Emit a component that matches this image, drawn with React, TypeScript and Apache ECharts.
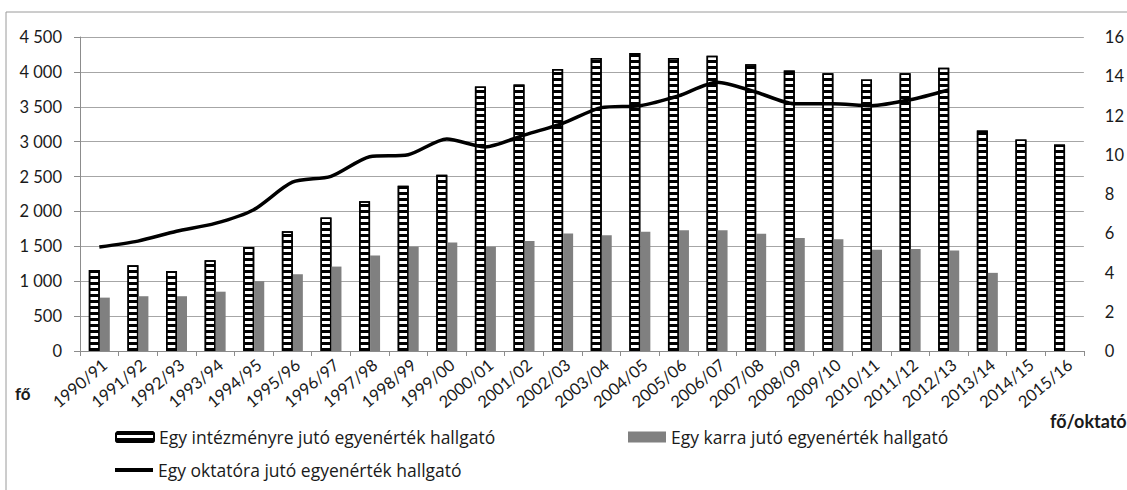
import React, { useEffect, useRef } from "react";
import * as echarts from "echarts";

const categories = [
  "1990/91", "1991/92", "1992/93", "1993/94", "1994/95", "1995/96", "1996/97",
  "1997/98", "1998/99", "1999/00", "2000/01", "2001/02", "2002/03", "2003/04",
  "2004/05", "2005/06", "2006/07", "2007/08", "2008/09", "2009/10", "2010/11",
  "2011/12", "2012/13", "2013/14", "2014/15", "2015/16",
];

const perInstitution = [
  1160, 1230, 1145, 1300, 1490, 1715, 1915, 2145, 2370, 2525, 3790, 3820, 4040,
  4200, 4270, 4200, 4230, 4110, 4020, 3980, 3890, 3980, 4060, 3160, 3030, 2960,
];

const perFaculty = [
  765, 785, 785, 850, 1000, 1100, 1210, 1370, 1495, 1555, 1495, 1575, 1685,
  1660, 1710, 1730, 1730, 1680, 1620, 1600, 1450, 1460, 1440, 1120, null, null,
];

const perLecturer = [
  5.3, 5.6, 6.1, 6.5, 7.2, 8.6, 8.9, 9.9, 10.0, 10.8, 10.4, 11.0, 11.6, 12.4,
  12.5, 13.0, 13.7, 13.2, 12.6, 12.6, 12.5, 12.8, 13.3, null, null, null,
];

const seriesNames = [
  "Egy intézményre jutó egyenérték hallgató",
  "Egy karra jutó egyenérték hallgató",
  "Egy oktatóra jutó egyenérték hallgató",
];

const leftTicks = { min: 0, max: 4500, interval: 500 };
const rightTicks = { min: 0, max: 16, interval: 2 };
const leftUnit = "fő";
const rightUnit = "fő/oktató";

const FONT = "Lato, 'Noto Sans', sans-serif";
const LEGEND_FONT = "'Open Sans', Lato, sans-serif";

function fmtThousands(v: number): string {
  if (v >= 1000) {
    const th = Math.floor(v / 1000);
    const rest = String(v % 1000).padStart(3, "0");
    return th + " " + rest;
  }
  return String(v);
}

export default function App() {
  const ref = useRef<HTMLDivElement>(null);

  useEffect(() => {
    document.body.style.margin = "0";
    if (!ref.current) return;
    const chart = echarts.init(ref.current, undefined, { renderer: "svg" });
    const textColor = "#1a1a1a";
    const legendText = { fontFamily: LEGEND_FONT, fontSize: 17.5, color: textColor };
    const option: any = {
      animation: false,
      backgroundColor: "#ffffff",
      textStyle: { fontFamily: FONT },
      grid: { left: 80, right: 40, top: 37, bottom: 139, containLabel: false },
      legend: [
        {
          data: [seriesNames[0]],
          left: 115,
          top: 428,
          padding: 0,
          itemWidth: 38,
          itemHeight: 10,
          itemGap: 5,
          textStyle: legendText,
          selectedMode: false,
        },
        {
          data: [seriesNames[1]],
          left: 628,
          top: 428,
          padding: 0,
          itemWidth: 38,
          itemHeight: 11,
          icon: "rect",
          textStyle: legendText,
          selectedMode: false,
        },
        {
          data: [seriesNames[2]],
          left: 115,
          top: 461,
          padding: 0,
          itemWidth: 38,
          itemHeight: 4,
          icon: "rect",
          textStyle: legendText,
          selectedMode: false,
        },
      ],
      xAxis: {
        type: "category",
        data: categories,
        axisLine: { show: true, lineStyle: { color: "#8c8c8c", width: 1 } },
        axisTick: { show: true, length: 5, lineStyle: { color: "#8c8c8c" } },
        axisLabel: {
          rotate: 40,
          interval: 0,
          margin: 5,
          align: "right",
          verticalAlign: "top",
          fontSize: 16.5,
          fontFamily: FONT,
          color: textColor,
        },
        splitLine: { show: false },
      },
      yAxis: [
        {
          type: "value",
          min: leftTicks.min,
          max: leftTicks.max,
          interval: leftTicks.interval,
          position: "left",
          axisLine: { show: true, lineStyle: { color: "#8c8c8c" } },
          axisTick: { show: true, length: 6, lineStyle: { color: "#8c8c8c" } },
          axisLabel: {
            margin: 18,
            fontSize: 16.5,
            fontFamily: FONT,
            color: textColor,
            formatter: (v: number) => fmtThousands(v),
          },
          splitLine: { show: true, lineStyle: { color: "#a6a6a6", width: 1 } },
        },
        {
          type: "value",
          min: rightTicks.min,
          max: rightTicks.max,
          interval: rightTicks.interval,
          position: "right",
          axisLine: { show: false },
          axisTick: { show: false },
          axisLabel: {
            margin: 21,
            fontSize: 16.5,
            fontFamily: FONT,
            color: textColor,
          },
          splitLine: { show: false },
        },
      ],
      series: [
        {
          name: seriesNames[0],
          type: "bar",
          yAxisIndex: 0,
          data: perInstitution,
          barWidth: 11,
          barGap: "0%",
          itemStyle: {
            color: "#ffffff",
            borderColor: "#000000",
            borderWidth: 1.5,
            decal: {
              symbol: "rect",
              symbolSize: 1,
              dashArrayX: [1, 0],
              dashArrayY: [3, 3],
              color: "#000000",
              rotation: 0,
            },
          },
        },
        {
          name: seriesNames[1],
          type: "bar",
          yAxisIndex: 0,
          data: perFaculty,
          barWidth: 10,
          barGap: "0%",
          itemStyle: { color: "#808080" },
        },
        {
          name: seriesNames[2],
          type: "line",
          yAxisIndex: 1,
          data: perLecturer,
          smooth: 0.25,
          showSymbol: false,
          symbol: "none",
          lineStyle: { color: "#000000", width: 3.5 },
          itemStyle: { color: "#000000" },
        },
      ],
      graphic: [
        {
          type: "rect",
          shape: { x: 6, y: 12, width: 1200, height: 600 },
          style: { fill: "none", stroke: "#9a9a9a", lineWidth: 1 },
          silent: true,
          z: -10,
        },
        {
          type: "text",
          left: 15,
          top: 385,
          style: {
            text: leftUnit,
            font: "bold 17px " + FONT,
            fill: textColor,
          },
        },
        {
          type: "text",
          left: 1050,
          top: 412,
          style: {
            text: rightUnit,
            font: "bold 18px " + FONT,
            fill: textColor,
          },
        },
      ],
    };
    chart.setOption(option);
    return () => chart.dispose();
  }, []);

  return <div ref={ref} style={{ width: 1127, height: 490 }} />;
}
